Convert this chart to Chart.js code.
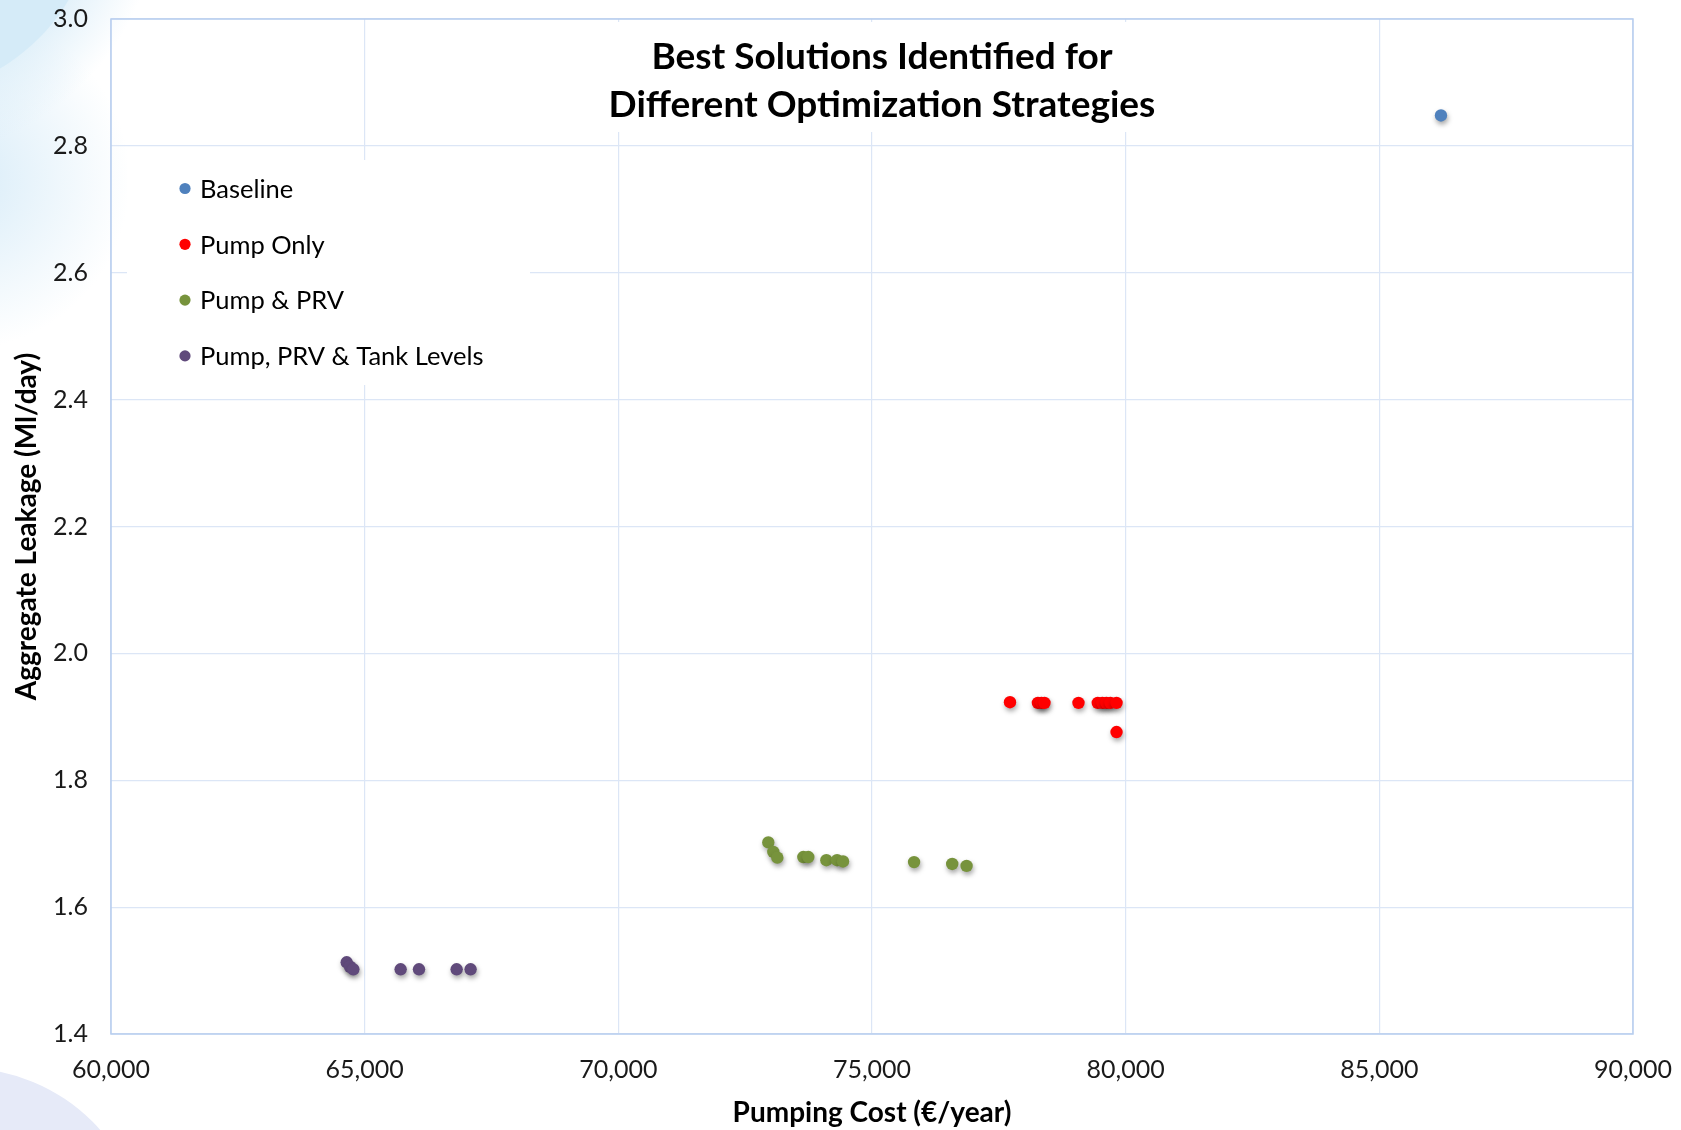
<!DOCTYPE html>
<html>
<head>
<meta charset="utf-8">
<title>Best Solutions Identified for Different Optimization Strategies</title>
<script src="https://cdn.jsdelivr.net/npm/chart.js@4.4.1/dist/chart.umd.min.js"></script>
<style>
  html, body { margin: 0; padding: 0; background: #ffffff; }
  #wrap { width: 1681px; height: 1130px; position: relative; }
  canvas { display: block; }
</style>
</head>
<body>
<div id="wrap"><canvas id="chart" width="1681" height="1130"></canvas></div>
<script>
// Pumping cost (€/year) and aggregate leakage (Ml/day) of the best solutions per strategy
const baselineCost = [86215];
const baselineLeakage = [2.848];

const pumpOnlyCost = [77720, 78270, 78340, 78400, 79070, 79450, 79540, 79620, 79700, 79820, 79820];
const pumpOnlyLeakage = [1.923, 1.922, 1.922, 1.922, 1.922, 1.922, 1.922, 1.922, 1.922, 1.922, 1.876];

const pumpPrvCost = [72956, 73055, 73134, 73646, 73745, 74101, 74311, 74429, 75829, 76581, 76864];
const pumpPrvLeakage = [1.702, 1.687, 1.678, 1.679, 1.679, 1.674, 1.674, 1.672, 1.671, 1.668, 1.665];

const pumpPrvTankCost = [64646, 64711, 64777, 65709, 66071, 66813, 67088];
const pumpPrvTankLeakage = [1.513, 1.506, 1.502, 1.502, 1.502, 1.502, 1.502];

const seriesNames = ['Baseline', 'Pump Only', 'Pump & PRV', 'Pump, PRV & Tank Levels'];
const seriesColors = ['#4f81bd', '#ff0000', '#77933c', '#604a7b'];

const costTicks = [60000, 65000, 70000, 75000, 80000, 85000, 90000];
const leakageTicks = [1.4, 1.6, 1.8, 2.0, 2.2, 2.4, 2.6, 2.8, 3.0];

const titleLines = ['Best Solutions Identified for', 'Different Optimization Strategies'];
const xTitle = 'Pumping Cost (€/year)';
const yTitle = 'Aggregate Leakage (Ml/day)';

const FONT = "Lato, 'Open Sans', 'DejaVu Sans', sans-serif";

function toPoints(xs, ys) {
  return xs.map((x, i) => ({ x: x, y: ys[i] }));
}

const datasets = [
  [baselineCost, baselineLeakage],
  [pumpOnlyCost, pumpOnlyLeakage],
  [pumpPrvCost, pumpPrvLeakage],
  [pumpPrvTankCost, pumpPrvTankLeakage]
].map(([xs, ys], i) => ({
  label: seriesNames[i],
  data: toPoints(xs, ys),
  backgroundColor: seriesColors[i],
  borderColor: seriesColors[i],
  borderWidth: 0,
  pointRadius: 6.2,
  pointHoverRadius: 6.2
}));

// keep the plot area fixed: no extra room for overhanging tick labels
function noLabelPadding(scale) {
  scale.paddingTop = 0;
  scale.paddingBottom = 0;
  scale.paddingLeft = 0;
  scale.paddingRight = 0;
}

// Slide-style backdrop: white page with soft tinted shapes in the left corners
const backdrop = {
  id: 'backdrop',
  beforeDraw(chart) {
    const ctx = chart.ctx;
    const w = chart.width, h = chart.height;
    ctx.save();
    ctx.fillStyle = '#ffffff';
    ctx.fillRect(0, 0, w, h);

    // faint glow along the upper left edge
    let g = ctx.createRadialGradient(-40, 180, 10, -40, 180, 170);
    g.addColorStop(0, 'rgba(214,235,248,0.9)');
    g.addColorStop(1, 'rgba(214,235,248,0)');
    ctx.fillStyle = g;
    ctx.fillRect(0, 0, 160, 400);

    // outer haze around the top-left arc
    g = ctx.createRadialGradient(-100, -100, 190, -100, -100, 260);
    g.addColorStop(0, 'rgba(222,239,249,0.9)');
    g.addColorStop(1, 'rgba(222,239,249,0)');
    ctx.fillStyle = g;
    ctx.fillRect(0, 0, 200, 200);

    // top-left arc
    ctx.fillStyle = '#d5ebf8';
    ctx.beginPath();
    ctx.arc(-100, -100, 196, 0, Math.PI * 2);
    ctx.fill();

    // bottom-left arc
    ctx.fillStyle = '#e6eaf8';
    ctx.beginPath();
    ctx.arc(-37, 1251, 183, 0, Math.PI * 2);
    ctx.fill();
    ctx.restore();
  }
};

// Plot frame, title panel and legend panel drawn over the grid
const panels = {
  id: 'panels',
  beforeDatasetsDraw(chart) {
    const ctx = chart.ctx;
    const a = chart.chartArea;
    ctx.save();

    // white panels that sit on top of the gridlines
    ctx.fillStyle = '#ffffff';
    ctx.fillRect(592, a.top + 3, 578, 110);
    ctx.fillRect(127, 160, 403, 225);

    // frame
    ctx.strokeStyle = '#b7cdee';
    ctx.lineWidth = 1.5;
    ctx.strokeRect(a.left, a.top, a.right - a.left, a.bottom - a.top);

    // title
    ctx.fillStyle = '#000000';
    ctx.textAlign = 'center';
    ctx.textBaseline = 'middle';
    ctx.font = 'bold 37px ' + FONT;
    ctx.fillText(titleLines[0], 882, 57);
    ctx.fillText(titleLines[1], 882, 105);

    // legend built from the datasets
    ctx.textAlign = 'left';
    ctx.font = '25.5px ' + FONT;
    chart.data.datasets.forEach((ds, i) => {
      const y = 188.5 + i * 55.8;
      ctx.fillStyle = ds.backgroundColor;
      ctx.beginPath();
      ctx.arc(185, y, 5.6, 0, Math.PI * 2);
      ctx.fill();
      ctx.fillStyle = '#000000';
      ctx.fillText(ds.label, 200, y + 1);
    });
    ctx.restore();

    // soft drop shadow under the markers
    ctx.save();
    ctx.shadowColor = 'rgba(0,0,0,0.35)';
    ctx.shadowBlur = 5;
    ctx.shadowOffsetX = 1;
    ctx.shadowOffsetY = 3;
  },
  afterDatasetsDraw(chart) {
    chart.ctx.restore();
  }
};

new Chart(document.getElementById('chart'), {
  type: 'scatter',
  data: { datasets: datasets },
  options: {
    responsive: false,
    devicePixelRatio: 1,
    animation: false,
    events: [],
    layout: { padding: { top: 19, right: 48, left: 0, bottom: 0 } },
    plugins: {
      legend: { display: false },
      title: { display: false },
      tooltip: { enabled: false }
    },
    scales: {
      x: {
        type: 'linear',
        min: costTicks[0],
        max: costTicks[costTicks.length - 1],
        afterBuildTicks(scale) { scale.ticks = costTicks.map(v => ({ value: v })); },
        afterFit(scale) { scale.height = 96; noLabelPadding(scale); },
        grid: { color: '#dce6f6', lineWidth: 1.2, drawTicks: false },
        border: { display: false },
        ticks: {
          padding: 21,
          color: '#1a1a1a',
          font: { family: FONT, size: 25 },
          maxRotation: 0,
          callback: v => v.toLocaleString('en-US')
        },
        title: {
          display: true,
          text: xTitle,
          color: '#000000',
          font: { family: FONT, size: 28, weight: 'bold' },
          padding: { top: 0, bottom: 0 }
        }
      },
      y: {
        type: 'linear',
        min: leakageTicks[0],
        max: leakageTicks[leakageTicks.length - 1],
        afterBuildTicks(scale) { scale.ticks = leakageTicks.map(v => ({ value: v })); },
        afterFit(scale) { scale.width = 111; noLabelPadding(scale); },
        grid: { color: '#dce6f6', lineWidth: 1.2, drawTicks: false },
        border: { display: false },
        ticks: {
          padding: 23,
          color: '#1a1a1a',
          font: { family: FONT, size: 25 },
          callback: v => v.toFixed(1)
        },
        title: {
          display: true,
          text: yTitle,
          color: '#000000',
          font: { family: FONT, size: 28, weight: 'bold' },
          padding: { top: 10, bottom: 0 }
        }
      }
    }
  },
  plugins: [backdrop, panels]
});
</script>
</body>
</html>
